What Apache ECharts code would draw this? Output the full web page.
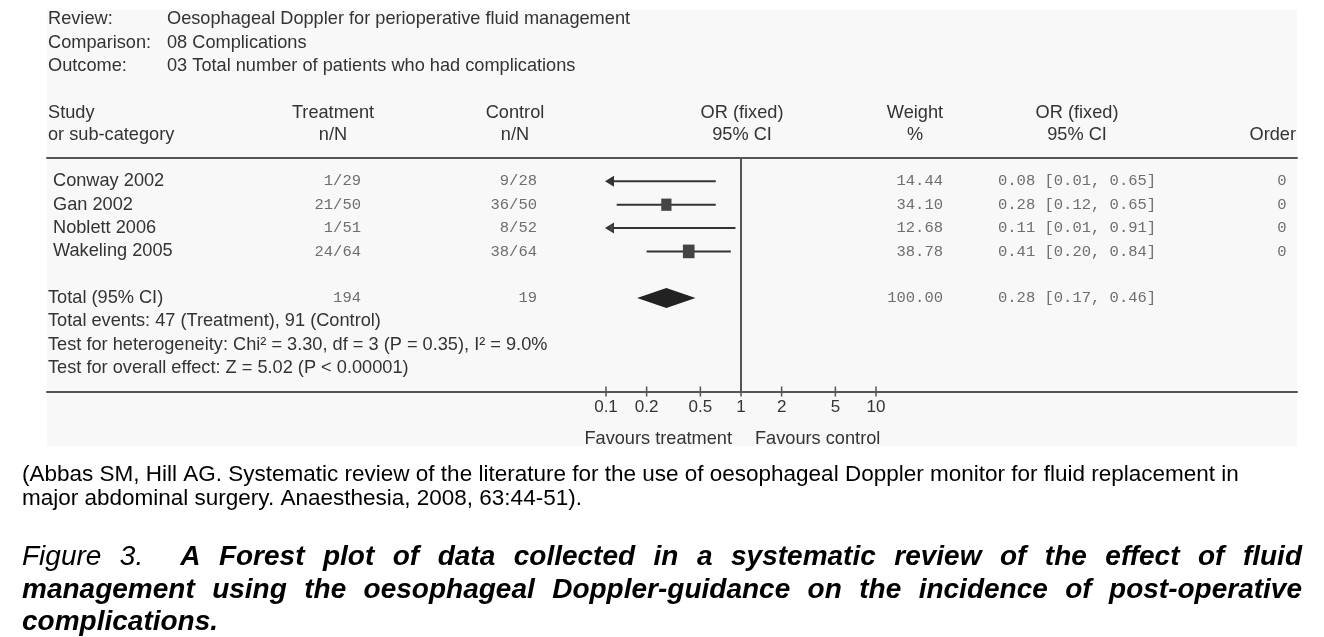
<!DOCTYPE html>
<html><head><meta charset="utf-8">
<script src="https://cdn.jsdelivr.net/npm/echarts@6/dist/echarts.min.js"></script>
<style>html,body{margin:0;padding:0;background:#fff}#c{width:1324px;height:637px}</style>
</head><body><div id="c"></div>
<script>
// ---------------- data ----------------
const metaLabels = ['Review:', 'Comparison:', 'Outcome:'];
const metaValues = ['Oesophageal Doppler for perioperative fluid management', '08 Complications', '03 Total number of patients who had complications'];
const studies = ['Conway 2002', 'Gan 2002', 'Noblett 2006', 'Wakeling 2005'];
const treatment = ['1/29', '21/50', '1/51', '24/64'];
const control = ['9/28', '36/50', '8/52', '38/64'];
const weights = [14.44, 34.10, 12.68, 38.78];
const orValues = [0.08, 0.28, 0.11, 0.41];
const ciLower = [0.01, 0.12, 0.01, 0.20];
const ciUpper = [0.65, 0.65, 0.91, 0.84];
const order = [0, 0, 0, 0];
const totalLabel = 'Total (95% CI)';
const totalTreatment = '194';
const totalControl = '19';
const totalWeight = 100.00;
const totalOR = 0.28;
const totalLower = 0.17;
const totalUpper = 0.46;
const footnotes = [
  'Total events: 47 (Treatment), 91 (Control)',
  'Test for heterogeneity: Chi\u00b2 = 3.30, df = 3 (P = 0.35), I\u00b2 = 9.0%',
  'Test for overall effect: Z = 5.02 (P < 0.00001)'
];
const axisTicks = [0.1, 0.2, 0.5, 1, 2, 5, 10];
const tickLabels = ['0.1', '0.2', '0.5', '1', '2', '5', '10'];
const favourLabels = ['Favours treatment', 'Favours control'];
const sourceLines = [
  '(Abbas SM, Hill AG. Systematic review of the literature for the use of oesophageal Doppler monitor for fluid replacement in',
  'major abdominal surgery. Anaesthesia, 2008, 63:44-51).'
];
const figLabel = 'Figure 3.';
const figLines = [
  'A Forest plot of data collected in a systematic review of the effect of fluid',
  'management using the oesophageal Doppler-guidance on the incidence of post-operative',
  'complications.'
];

// ---------------- layout ----------------
const FONT = '"Liberation Sans", Arial, Helvetica, sans-serif';
const MONO = '"Liberation Mono", "Courier New", monospace';
const TXT = '#333';
const NUM = '#6e6e6e';
const F_MAIN = '18.2px ' + FONT;
const F_MONO = '15.5px ' + MONO;
const PANEL = {x: 47, y: 10, w: 1250, h: 436};
const GRID = {left: 47, right: 27, top: 158, bottom: 637 - 391.5};
// log axis calibration: 0.1 at x=606, 10 at x=876
const PX_PER_DEC = (876 - 606) / 2;
const xMinExp = -1 - (606 - GRID.left) / PX_PER_DEC;
const xMaxExp = 1 + ((1324 - GRID.right) - 876) / PX_PER_DEC;
const XMIN = Math.pow(10, xMinExp), XMAX = Math.pow(10, xMaxExp);
const CLIP = 0.1;
const COL = {study: 53, label: 48, treat: 361, ctrl: 537, weight: 943, ci: 998, order: 1282};

const chart = echarts.init(document.getElementById('c'), null, {renderer: 'canvas'});

const fmt = v => v.toFixed(2);
const ciText = (o, l, u) => fmt(o) + ' [' + fmt(l) + ', ' + fmt(u) + ']';

function txt(x, y, text, opt) {
  opt = opt || {};
  return {type: 'text', x: x, y: y, silent: true, z: 5,
    style: {text: text, fill: opt.fill || TXT, font: opt.font || F_MAIN,
      align: opt.align || 'left', verticalAlign: 'middle'}};
}

// graphics (header + caption)
const graphics = [];
graphics.push({type: 'rect', z: -10, silent: true, shape: {x: PANEL.x, y: PANEL.y, width: PANEL.w, height: PANEL.h}, style: {fill: '#f8f8f8'}});
const metaY = [19, 43, 66];
metaLabels.forEach((t, i) => { graphics.push(txt(48, metaY[i], t)); graphics.push(txt(167, metaY[i], metaValues[i])); });
graphics.push(txt(48, 113, 'Study'), txt(48, 135, 'or sub-category'));
graphics.push(txt(333, 113, 'Treatment', {align: 'center'}), txt(333, 135, 'n/N', {align: 'center'}));
graphics.push(txt(515, 113, 'Control', {align: 'center'}), txt(515, 135, 'n/N', {align: 'center'}));
graphics.push(txt(742, 113, 'OR (fixed)', {align: 'center'}), txt(742, 135, '95% CI', {align: 'center'}));
graphics.push(txt(915, 113, 'Weight', {align: 'center'}), txt(915, 135, '%', {align: 'center'}));
graphics.push(txt(1077, 113, 'OR (fixed)', {align: 'center'}), txt(1077, 135, '95% CI', {align: 'center'}));
graphics.push(txt(1296, 135, 'Order', {align: 'right'}));
graphics.push(txt(732, 439, favourLabels[0], {align: 'right'}), txt(755, 439, favourLabels[1]));
graphics.push(txt(22, 475, sourceLines[0], {fill: '#000', font: '22.5px ' + FONT}));
graphics.push(txt(22, 499, sourceLines[1], {fill: '#000', font: '22.5px ' + FONT}));

// justified figure caption
const ctx = document.createElement('canvas').getContext('2d');
const F_IT = 'italic 28px ' + FONT, F_BI = 'italic bold 28px ' + FONT;
function measure(w, f) { ctx.font = f; return ctx.measureText(w).width; }
function justify(words, y, L, R) {
  let total = 0, gaps = 0;
  words.forEach((w, i) => { w.w = measure(w.t, w.f); total += w.w; if (i > 0) gaps += (w.g || 1); });
  const unit = (R - L - total) / gaps;
  let x = L;
  words.forEach((w, i) => {
    if (i > 0) x += unit * (w.g || 1);
    graphics.push(txt(x, y, w.t, {fill: '#000', font: w.f}));
    x += w.w;
  });
}
const line1 = figLabel.split(' ').map(t => ({t: t, f: F_IT})).concat(
  figLines[0].split(' ').map((t, i) => ({t: t, f: F_BI, g: i === 0 ? 2 : 1})));
justify(line1, 557, 22, 1302);
justify(figLines[1].split(' ').map(t => ({t: t, f: F_BI})), 590, 22, 1302);
graphics.push(txt(22, 622, figLines[2], {fill: '#000', font: F_BI}));

// ---------------- series data ----------------
const studyData = studies.map((s, i) => [orValues[i], i, ciLower[i], ciUpper[i], weights[i]]);
const totalRowIndex = 5;
const footRowStart = 6;
const axisRow = 9;

const option = {
  animation: false,
  backgroundColor: '#ffffff',
  grid: {left: GRID.left, right: GRID.right, top: GRID.top, bottom: GRID.bottom, containLabel: false},
  xAxis: [
    {type: 'log', min: XMIN, max: XMAX, position: 'bottom',
      axisLine: {show: true, onZero: false, lineStyle: {color: '#555', width: 2}},
      axisTick: {show: false}, axisLabel: {show: false}, splitLine: {show: false}},
    {type: 'log', min: XMIN, max: XMAX, position: 'top',
      axisLine: {show: true, onZero: false, lineStyle: {color: '#555', width: 2}},
      axisTick: {show: false}, axisLabel: {show: false}, splitLine: {show: false}}
  ],
  yAxis: {type: 'value', inverse: true, min: -1, max: axisRow, show: false},
  graphic: graphics,
  series: [
    { // study confidence intervals, squares and line of no effect
      type: 'custom', name: 'studies', clip: false, z: 3,
      data: studyData,
      renderItem: function (params, api) {
        const or = api.value(0), row = api.value(1), lo = api.value(2), hi = api.value(3), w = api.value(4);
        const y = api.coord([1, row])[1];
        const clipped = lo < CLIP;
        const xl = api.coord([clipped ? CLIP : lo, row])[0];
        const xh = api.coord([hi, row])[0];
        const ch = [{type: 'line', shape: {x1: xl + (clipped ? 6 : 0), y1: y, x2: xh, y2: y}, style: {stroke: '#333', lineWidth: 2}}];
        if (clipped) ch.push({type: 'polygon', shape: {points: [[xl - 1, y], [xl + 8, y - 5.5], [xl + 8, y + 5.5]]}, style: {fill: '#333'}});
        if (or >= CLIP) {
          const s = w * 0.3, xo = api.coord([or, row])[0];
          ch.push({type: 'rect', shape: {x: xo - s / 2, y: y - s / 2 - 1, width: s, height: s + 2}, style: {fill: '#444'}});
        }
        return {type: 'group', children: ch};
      },
      markLine: {silent: true, symbol: 'none', animation: false,
        label: {show: false}, lineStyle: {color: '#555', width: 2, type: 'solid'},
        data: [{xAxis: 1}]}
    },
    { // pooled diamond
      type: 'custom', name: 'total', clip: false, z: 3,
      data: [[totalOR, totalRowIndex, totalLower, totalUpper]],
      renderItem: function (params, api) {
        const row = api.value(1);
        const c = api.coord([api.value(0), row]);
        const l = api.coord([api.value(2), row])[0], r = api.coord([api.value(3), row])[0];
        return {type: 'polygon', shape: {points: [[l, c[1]], [c[0], c[1] - 10], [r, c[1]], [c[0], c[1] + 10]]}, style: {fill: '#222'}};
      }
    },
    { // axis ticks and labels
      type: 'custom', name: 'ticks', clip: false, z: 3,
      data: axisTicks.map(t => [t, axisRow]),
      renderItem: function (params, api) {
        const p = api.coord([api.value(0), api.value(1)]);
        return {type: 'group', children: [
          {type: 'line', shape: {x1: p[0], y1: p[1] - 5, x2: p[0], y2: p[1] + 5}, style: {stroke: '#555', lineWidth: 1.5}},
          {type: 'text', x: p[0], y: p[1] + 16, style: {text: tickLabels[params.dataIndex], fill: TXT, font: '17px ' + FONT, align: 'center', verticalAlign: 'middle'}}
        ]};
      }
    },
    { // table text for each study row
      type: 'custom', name: 'table', clip: false, z: 4,
      data: studies.map((s, i) => [1, i]),
      renderItem: function (params, api) {
        const i = params.dataIndex;
        const y = api.coord([1, api.value(1)])[1];
        return {type: 'group', children: [
          txt(COL.study, y, studies[i]),
          txt(COL.treat, y, treatment[i], {font: F_MONO, fill: NUM, align: 'right'}),
          txt(COL.ctrl, y, control[i], {font: F_MONO, fill: NUM, align: 'right'}),
          txt(COL.weight, y, fmt(weights[i]), {font: F_MONO, fill: NUM, align: 'right'}),
          txt(COL.ci, y, ciText(orValues[i], ciLower[i], ciUpper[i]), {font: F_MONO, fill: NUM}),
          txt(COL.order, y, String(order[i]), {font: F_MONO, fill: NUM, align: 'center'})
        ]};
      }
    },
    { // total row + footnotes
      type: 'custom', name: 'summary', clip: false, z: 4,
      data: [[1, totalRowIndex]].concat(footnotes.map((f, i) => [1, footRowStart + i])),
      renderItem: function (params, api) {
        const i = params.dataIndex;
        const y = api.coord([1, api.value(1)])[1];
        if (i === 0) {
          return {type: 'group', children: [
            txt(COL.label, y, totalLabel),
            txt(COL.treat, y, totalTreatment, {font: F_MONO, fill: NUM, align: 'right'}),
            txt(COL.ctrl, y, totalControl, {font: F_MONO, fill: NUM, align: 'right'}),
            txt(COL.weight, y, fmt(totalWeight), {font: F_MONO, fill: NUM, align: 'right'}),
            txt(COL.ci, y, ciText(totalOR, totalLower, totalUpper), {font: F_MONO, fill: NUM})
          ]};
        }
        return txt(COL.label, y, footnotes[i - 1]);
      }
    }
  ]
};
chart.setOption(option);
</script>
</body></html>
